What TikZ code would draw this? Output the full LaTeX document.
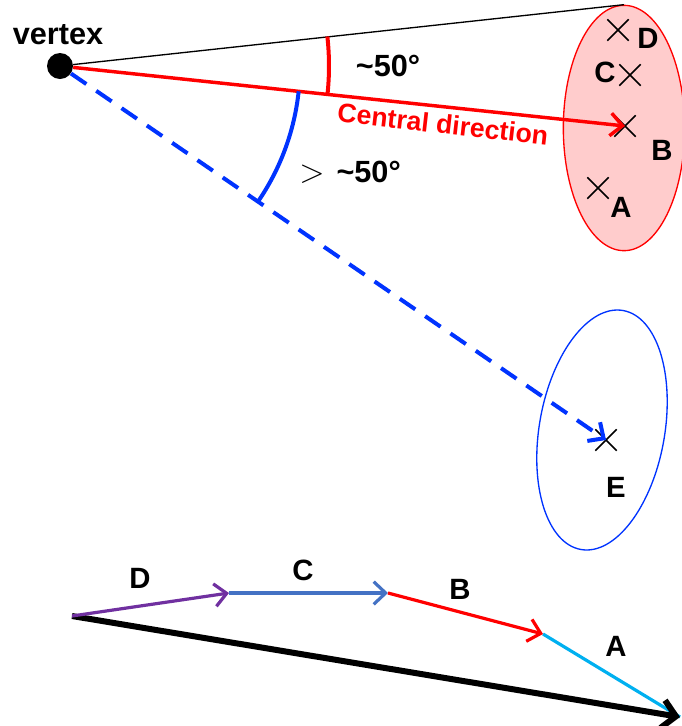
\documentclass[tikz,border=0pt]{standalone}
\usepackage{fontspec}
\setmainfont{Liberation Sans}
\usetikzlibrary{arrows.meta,shapes.geometric,shapes.misc,calc}
\definecolor{pinkfill}{RGB}{255,204,204}
\definecolor{vecD}{RGB}{112,48,160}
\definecolor{vecC}{RGB}{68,114,196}
\definecolor{vecA}{RGB}{0,176,240}
\definecolor{myblue}{RGB}{0,51,255}
\begin{document}
\begin{tikzpicture}[x=0.75pt,y=-0.75pt,
  lbl/.style={font=\fontsize{22}{26}\selectfont\bfseries, inner sep=0},
  xmark/.style={cross out, draw=black, line width=1.1pt, minimum size=15pt, inner sep=0},
  barb/.style={-{Straight Barb[length=9pt,width=17pt]}},
  vec/.style={line width=2.4pt, barb}]
\useasboundingbox (0,0) rectangle (682,726);

% red ellipse and crosses
\node[ellipse, draw=red, fill=pinkfill, line width=1pt, minimum width=91pt, minimum height=184pt, inner sep=0] (ellR) at (624,128) {};
\node[xmark] (xD) at (618,30) {};
\node[xmark] (xC) at (630,75) {};
\node[xmark] (xB) at (625,126) {};
\node[xmark] (xA) at (598,188) {};
\node[lbl] at (648,38) {D};
\node[lbl] at (605,72) {C};
\node[lbl] at (662,150) {B};
\node[lbl] at (621,207) {A};

% blue ellipse
\node[ellipse, draw=myblue, line width=1pt, minimum width=94pt, minimum height=182pt, inner sep=0, rotate=-10] (ellB) at (602,430) {};
\node[xmark] (xE) at (606,440) {};
\node[lbl] at (616,487) {E};

% vertex
\node[circle, fill=black, minimum size=19.5pt, inner sep=0] (vertex) at (60,66) {};
\node[font=\fontsize{23}{27}\selectfont\bfseries, inner sep=0] at (58,35) {vertex};

% lines
\draw[black, line width=1pt] (vertex) -- (ellR.north);
\draw[red, line width=2.6pt, barb] (vertex) -- (xB.center);
\draw[myblue, line width=3pt, dash pattern=on 14pt off 9pt, barb] (vertex) -- (xE.center);

% arcs
\draw[red, line width=3pt] ($(vertex.center)+(-6.3:269)$) arc[start angle=-6.3, end angle=6.06, radius=269];
\draw[myblue, line width=3pt] ($(vertex.center)+(6.06:240)$) arc[start angle=6.06, end angle=34.4, radius=240];

% angle labels
\node[font=\fontsize{23}{27}\selectfont\bfseries, inner sep=0] at (388,66) {\textasciitilde 50°};
\node[inner sep=0, anchor=west] at (299,172) {\fontsize{23}{27}\selectfont$>$\hspace{9pt}\bfseries\textasciitilde 50°};
\node[font=\fontsize{20}{24}\selectfont\bfseries, text=red, rotate=-6.5, inner sep=0] at (443,124) {Central direction};

% bottom vectors
\coordinate (p0) at (72,616);
\coordinate (p1) at (229,593);
\coordinate (p2) at (388,593);
\coordinate (p3) at (543,634);
\coordinate (p4) at (680,717);
\draw[vecA, line width=2.4pt] (p3) -- (p4);
\draw[black, line width=4.5pt, -{Straight Barb[length=10pt,width=21pt]}] (p0) -- (p4);
\draw[vecD, vec] (p0) -- (p1);
\draw[vecC, vec] (p1) -- (p2);
\draw[red, vec] (p2) -- (p3);
\node[lbl] at (140,578) {D};
\node[lbl] at (303,570) {C};
\node[lbl] at (460,589) {B};
\node[lbl] at (616,646) {A};
\end{tikzpicture}
\end{document}
